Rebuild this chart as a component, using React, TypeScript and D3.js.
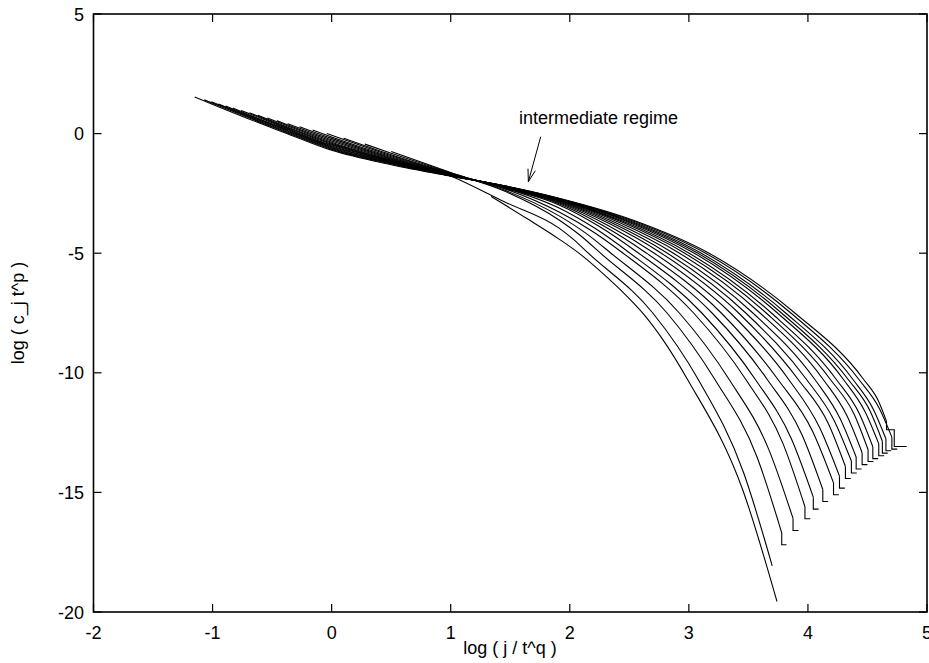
import React from "react";
import * as d3 from "d3";

// Axis ticks
const xTicks = [-2, -1, 0, 1, 2, 3, 4, 5];
const yTicks = [5, 0, -5, -10, -15, -20];

// Curve data: log(j/t^q) values (x) and log(c_j t^p) values (y), one row per curve
const curveX: number[][] = [
  [1.34, 1.64, 1.91, 2.09, 2.3, 2.47, 2.62, 2.8, 2.99, 3.455, 3.74],
  [0.8, 1.04, 1.45, 1.91, 2.033, 2.156, 2.697, 3.08, 3.46, 3.7],
  [0.5, 1.0, 1.45, 1.91, 2.084, 2.258, 2.817, 3.22, 3.57, 3.78],
  [0.28, 0.5, 1.0, 1.45, 1.91, 2.128, 2.346, 2.92, 3.34, 3.67, 3.875],
  [0.1, 0.5, 1.0, 1.45, 1.91, 2.179, 2.448, 3.04, 3.48, 3.79, 3.975],
  [-0.04, 0.5, 1.0, 1.45, 1.91, 2.208, 2.506, 3.109, 3.56, 3.86, 4.045],
  [-0.16, 0.0, 0.5, 1.0, 1.45, 1.91, 2.245, 2.579, 3.195, 3.66, 3.95, 4.125],
  [-0.27, 0.0, 0.5, 1.0, 1.45, 1.91, 2.278, 2.645, 3.272, 3.75, 4.04, 4.215],
  [-0.37, 0.0, 0.5, 1.0, 1.45, 1.91, 2.31, 2.71, 3.349, 3.84, 4.1, 4.265],
  [-0.46, -0.4, 0.0, 0.5, 1.0, 1.45, 1.91, 2.34, 2.769, 3.418, 3.92, 4.17, 4.315],
  [-0.54, -0.4, 0.0, 0.5, 1.0, 1.45, 1.91, 2.365, 2.82, 3.478, 3.99, 4.22, 4.365],
  [-0.62, -0.4, 0.0, 0.5, 1.0, 1.45, 1.91, 2.39, 2.871, 3.538, 4.06, 4.27, 4.405],
  [-0.69, -0.4, 0.0, 0.5, 1.0, 1.45, 1.91, 2.416, 2.922, 3.598, 4.13, 4.33, 4.455],
  [-0.76, -0.7, -0.4, 0.0, 0.5, 1.0, 1.45, 1.91, 2.438, 2.966, 3.65, 4.19, 4.39, 4.505],
  [-0.83, -0.7, -0.4, 0.0, 0.5, 1.0, 1.45, 1.91, 2.457, 3.003, 3.693, 4.24, 4.43, 4.545],
  [-0.89, -0.7, -0.4, 0.0, 0.5, 1.0, 1.45, 1.91, 2.478, 3.046, 3.744, 4.3, 4.48, 4.595],
  [-0.95, -0.7, -0.4, 0.0, 0.5, 1.0, 1.45, 1.91, 2.493, 3.076, 3.778, 4.34, 4.52, 4.625],
  [-1.01, -0.7, -0.4, 0.0, 0.5, 1.0, 1.45, 1.91, 2.508, 3.105, 3.813, 4.38, 4.55, 4.655],
  [-1.07, -0.7, -0.4, 0.0, 0.5, 1.0, 1.45, 1.91, 2.526, 3.141, 3.856, 4.43, 4.6, 4.705],
  [-1.15, -0.7, -0.4, 0.0, 0.5, 1.0, 1.45, 1.91, 2.54, 3.17, 3.89, 4.47, 4.59, 4.66],
];

const curveY: number[][] = [
  [-2.63, -3.55, -4.41, -5.05, -5.95, -6.75, -7.55, -8.75, -10.29, -14.93, -19.56],
  [-1.35, -1.86, -2.85, -3.95, -4.43, -5.0, -7.5, -10.29, -14.18, -18.07],
  [-0.75, -1.63, -2.4, -3.61, -4.24, -5.0, -7.5, -10.29, -13.49, -16.69],
  [-0.44, -0.82, -1.65, -2.36, -3.44, -4.14, -5.0, -7.5, -10.29, -13.19, -16.09],
  [-0.19, -0.88, -1.66, -2.3, -3.28, -4.05, -5.0, -7.5, -10.29, -12.95, -15.6],
  [0.0, -0.93, -1.68, -2.26, -3.11, -3.95, -5.0, -7.5, -10.29, -12.75, -15.2],
  [0.15, -0.14, -0.97, -1.69, -2.28, -2.98, -3.87, -5.0, -7.5, -10.29, -12.59, -14.88],
  [0.29, -0.2, -1.01, -1.7, -2.26, -2.93, -3.84, -5.0, -7.5, -10.29, -12.45, -14.6],
  [0.41, -0.26, -1.04, -1.71, -2.24, -2.89, -3.81, -5.0, -7.5, -10.29, -12.31, -14.32],
  [0.54, 0.42, -0.31, -1.07, -1.72, -2.23, -2.86, -3.78, -5.0, -7.5, -10.29, -12.11, -13.92],
  [0.65, 0.38, -0.36, -1.1, -1.72, -2.22, -2.83, -3.76, -5.0, -7.5, -10.29, -11.99, -13.69],
  [0.77, 0.33, -0.4, -1.12, -1.73, -2.21, -2.81, -3.74, -5.0, -7.5, -10.29, -11.91, -13.52],
  [0.87, 0.3, -0.44, -1.15, -1.74, -2.2, -2.79, -3.72, -5.0, -7.5, -10.29, -11.82, -13.34],
  [0.97, 0.85, 0.26, -0.48, -1.17, -1.74, -2.2, -2.77, -3.7, -5.0, -7.5, -10.29, -11.75, -13.21],
  [1.07, 0.8, 0.22, -0.52, -1.19, -1.75, -2.2, -2.76, -3.69, -5.0, -7.5, -10.29, -11.69, -13.09],
  [1.15, 0.77, 0.19, -0.55, -1.21, -1.76, -2.19, -2.745, -3.67, -5.0, -7.5, -10.29, -11.63, -12.97],
  [1.24, 0.74, 0.16, -0.59, -1.23, -1.76, -2.19, -2.73, -3.66, -5.0, -7.5, -10.29, -11.58, -12.86],
  [1.33, 0.7, 0.12, -0.62, -1.25, -1.77, -2.19, -2.72, -3.65, -5.0, -7.5, -10.29, -11.53, -12.76],
  [1.41, 0.67, 0.09, -0.66, -1.27, -1.77, -2.18, -2.71, -3.64, -5.0, -7.5, -10.29, -11.49, -12.69],
  [1.53, 0.62, 0.05, -0.7, -1.3, -1.78, -2.18, -2.7, -3.63, -5.0, -7.5, -10.29, -11.16, -12.03],
];

// Stepped tails at the end of each curve (discrete last points)
const tailX: number[][] = [
  [],
  [],
  [3.78, 3.82],
  [3.875, 3.92],
  [3.975, 4.02],
  [4.045, 4.09],
  [4.125, 4.17],
  [4.215, 4.26],
  [4.265, 4.31],
  [4.315, 4.36],
  [4.365, 4.41],
  [4.405, 4.45],
  [4.455, 4.5],
  [4.505, 4.55],
  [4.545, 4.59],
  [4.595, 4.64],
  [4.625, 4.67],
  [4.655, 4.7],
  [4.705, 4.75],
  [4.66, 4.725, 4.725, 4.83],
];
const tailY: number[][] = [
  [],
  [],
  [-17.19, -17.19],
  [-16.59, -16.59],
  [-16.1, -16.1],
  [-15.7, -15.7],
  [-15.38, -15.38],
  [-15.1, -15.1],
  [-14.82, -14.82],
  [-14.42, -14.42],
  [-14.19, -14.19],
  [-14.02, -14.02],
  [-13.84, -13.84],
  [-13.71, -13.71],
  [-13.59, -13.59],
  [-13.47, -13.47],
  [-13.36, -13.36],
  [-13.26, -13.26],
  [-13.19, -13.19],
  [-12.38, -12.38, -13.08, -13.08],
];

const annotationText = "intermediate regime";
const xTitle = "log ( j / t^q )";
const yTitle = "log ( c_j t^p )";

const W = 929;
const H = 663;
const FONT = "'Liberation Sans', Arial, Helvetica, sans-serif";

export default function App() {
  const x = d3.scaleLinear().domain([-2, 5]).range([93.5, 927]);
  const y = d3.scaleLinear().domain([-20, 5]).range([612, 14]);
  const [x0, x1] = x.range();
  const [y0, y1] = y.range();

  const smooth = d3
    .line<[number, number]>()
    .x((d) => x(d[0]))
    .y((d) => y(d[1]))
    .curve(d3.curveMonotoneX);
  const straight = d3
    .line<[number, number]>()
    .x((d) => x(d[0]))
    .y((d) => y(d[1]));

  const tick = 8;
  const fs = 18;

  // annotation arrow (data coords)
  const arrowFrom: [number, number] = [1.756, -0.13];
  const arrowTo: [number, number] = [1.652, -2.01];
  const ax1 = x(arrowFrom[0]), ay1 = y(arrowFrom[1]);
  const ax2 = x(arrowTo[0]), ay2 = y(arrowTo[1]);
  const ang = Math.atan2(ay2 - ay1, ax2 - ax1);
  const headLen = 13;
  const headAng = (17 * Math.PI) / 180;
  const h1 = [ax2 - headLen * Math.cos(ang - headAng), ay2 - headLen * Math.sin(ang - headAng)];
  const h2 = [ax2 - headLen * Math.cos(ang + headAng), ay2 - headLen * Math.sin(ang + headAng)];

  return (
    <svg
      width={W}
      height={H}
      style={{ position: "absolute", left: 0, top: 0, background: "#fff" }}
      fontFamily={FONT}
    >
      <rect x={0} y={0} width={W} height={H} fill="#fff" />
      {/* curves */}
      <g fill="none" stroke="#000" strokeWidth={1.1}>
        {curveX.map((xs, i) => {
          const pts = xs.map((v, j) => [v, curveY[i][j]] as [number, number]);
          const last = pts[pts.length - 1];
          const tail = [last, ...tailX[i].map((v, j) => [v, tailY[i][j]] as [number, number])];
          return (
            <g key={i}>
              <path d={smooth(pts) || ""} />
              {tail.length > 1 && <path d={straight(tail) || ""} />}
            </g>
          );
        })}
      </g>

      {/* frame */}
      <rect x={x0} y={y1} width={x1 - x0} height={y0 - y1} fill="none" stroke="#000" strokeWidth={1.6} />

      {/* ticks */}
      <g stroke="#000" strokeWidth={1.2}>
        {xTicks.map((t) => (
          <g key={"xt" + t}>
            <line x1={x(t)} x2={x(t)} y1={y0} y2={y0 - tick} />
            <line x1={x(t)} x2={x(t)} y1={y1} y2={y1 + tick} />
          </g>
        ))}
        {yTicks.map((t) => (
          <g key={"yt" + t}>
            <line x1={x0} x2={x0 + tick} y1={y(t)} y2={y(t)} />
            <line x1={x1} x2={x1 - tick} y1={y(t)} y2={y(t)} />
          </g>
        ))}
      </g>

      {/* tick labels */}
      <g fontSize={fs} fill="#000">
        {xTicks.map((t) => (
          <text key={"xl" + t} x={x(t)} y={638.5} textAnchor="middle">
            {t}
          </text>
        ))}
        {yTicks.map((t) => (
          <text key={"yl" + t} x={84} y={y(t) + 6.5} textAnchor="end">
            {t}
          </text>
        ))}
      </g>

      {/* axis titles */}
      <text x={510} y={654} textAnchor="middle" fontSize={fs}>
        {xTitle}
      </text>
      <text transform="translate(24,313) rotate(-90)" textAnchor="middle" fontSize={fs}>
        {yTitle}
      </text>

      {/* annotation */}
      <text x={x(1.574)} y={y(0.4)} fontSize={fs}>
        {annotationText}
      </text>
      <g stroke="#000" strokeWidth={1} fill="none">
        <line x1={ax1} y1={ay1} x2={ax2} y2={ay2} />
        <polyline points={`${h1[0]},${h1[1]} ${ax2},${ay2} ${h2[0]},${h2[1]}`} />
      </g>
    </svg>
  );
}
